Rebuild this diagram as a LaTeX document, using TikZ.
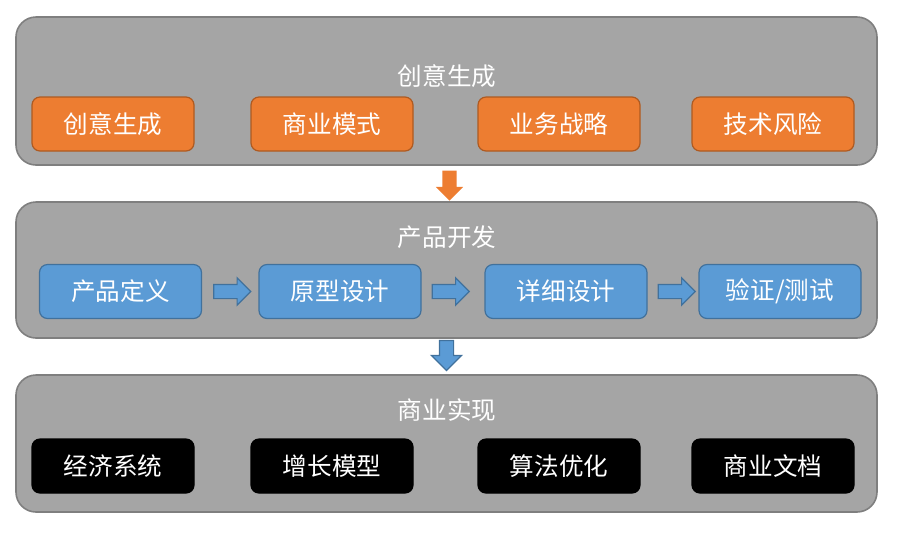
\documentclass[tikz,border=0pt]{standalone}
\usepackage{fontspec}
\setmainfont{Noto Sans CJK SC}
\usepackage{tikz}
\usetikzlibrary{shapes.arrows}
\definecolor{layergray}{RGB}{165, 165, 165}
\definecolor{layerline}{RGB}{127, 127, 127}
\definecolor{pporange}{RGB}{237, 125, 49}
\definecolor{ppoline}{RGB}{174, 90, 33}
\definecolor{ppblue}{RGB}{91, 155, 213}
\definecolor{ppbline}{RGB}{65, 113, 156}

\begin{document}
\begin{tikzpicture}[x=0.5pt,y=-0.5pt,
    font=\fontsize{12.3}{14}\selectfont,
    layer/.style={draw=layerline,fill=layergray,line width=0.8pt,rounded corners=10pt,minimum width=430.5pt},
    title/.style={text=white},
    box/.style={rounded corners=4pt,line width=0.6pt,minimum width=81pt,minimum height=27pt,text=white},
    obox/.style={box,draw=ppoline,fill=pporange},
    bbox/.style={box,draw=ppbline,fill=ppblue},
    kbox/.style={box,draw=black,fill=black},
    blk/.style={single arrow,inner sep=3.25pt,single arrow head extend=3.25pt,minimum height=18.5pt,line width=0.6pt}]

\useasboundingbox (0,0) rectangle (903,548);

% Layers
\node[layer,minimum height=74pt] (gen) at (446.5,91) {};
\node[layer,minimum height=68pt] (dev) at (446.5,270) {};
\node[layer,minimum height=68.5pt] (biz) at (446.5,443.5) {};

\node[title] (gent) at (447,76) {创意生成};
\node[title] (devt) at (447,237) {产品开发};
\node[title] (bizt) at (447,410) {商业实现};

% Top row
\node[obox] (g1) at (113,124) {创意生成};
\node[obox] (g2) at (332,124) {商业模式};
\node[obox] (g3) at (559,124) {业务战略};
\node[obox] (g4) at (773,124) {技术风险};

% Middle row
\node[bbox] (d1) at (120.5,291.5) {产品定义};
\node[bbox] (d2) at (340,291.5) {原型设计};
\node[bbox] (d3) at (566,291.5) {详细设计};
\node[bbox] (d4) at (780,291.5) {验证/测试};

% Bottom row
\node[kbox] (b1) at (113,466) {经济系统};
\node[kbox] (b2) at (332,466) {增长模型};
\node[kbox] (b3) at (559,466) {算法优化};
\node[kbox] (b4) at (773,466) {商业文档};

% Block arrows
\node[blk,fill=ppblue,draw=ppbline,anchor=west] (a1) at ([xshift=5.5pt]d1.east) {};
\node[blk,fill=ppblue,draw=ppbline,anchor=west] (a2) at ([xshift=5pt]d2.east) {};
\node[blk,fill=ppblue,draw=ppbline,anchor=west] (a3) at ([xshift=5pt]d3.east) {};
\node[blk,fill=pporange,rotate=-90,minimum height=15pt] (a4) at (449.5,182) {};
\node[blk,fill=ppblue,draw=ppbline,rotate=-90,minimum height=15pt,single arrow head extend=4pt] (a5) at (446.5,352) {};
\end{tikzpicture}
\end{document}
